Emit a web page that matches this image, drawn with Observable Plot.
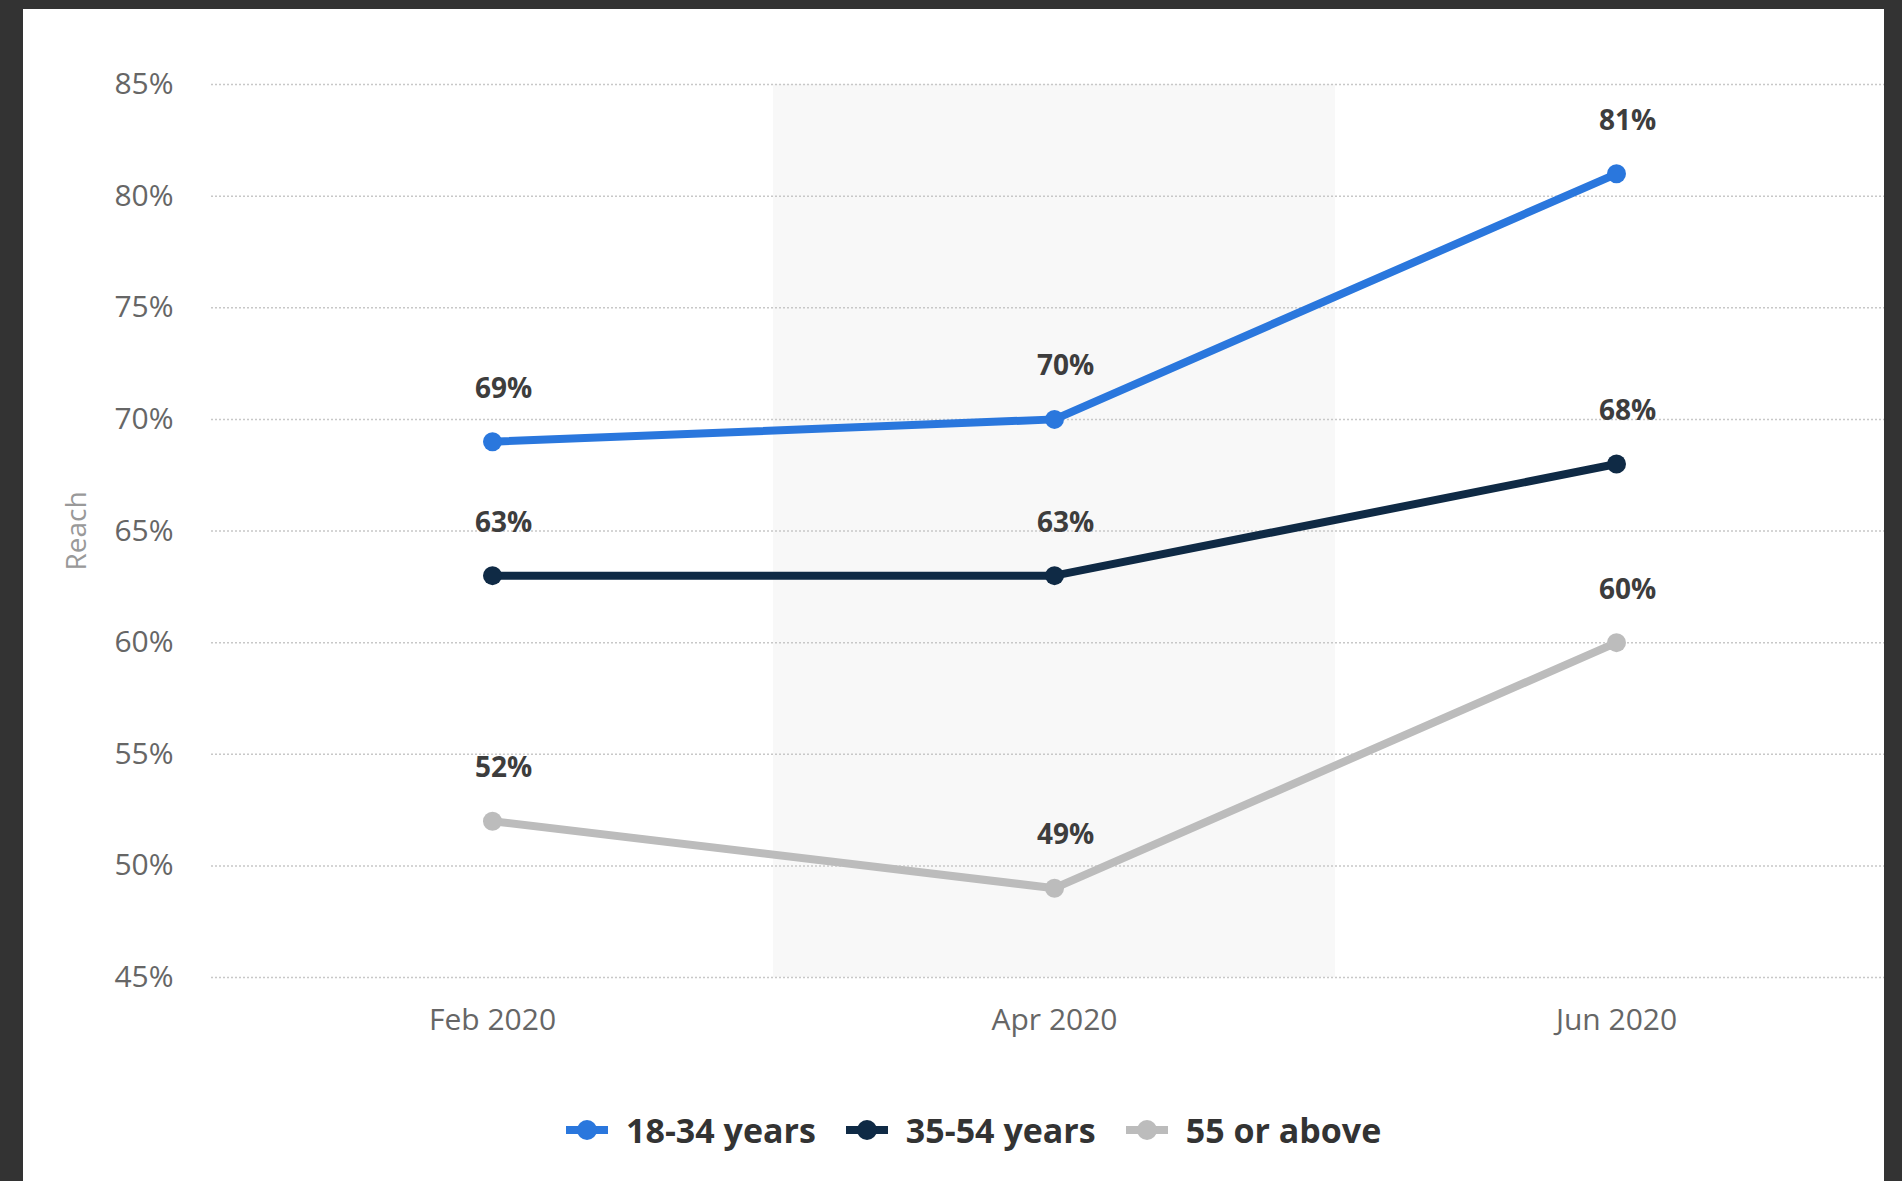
<!DOCTYPE html>
<html><head><meta charset="utf-8">
<script src="https://cdn.jsdelivr.net/npm/d3@7"></script>
<script src="https://cdn.jsdelivr.net/npm/@observablehq/plot@0.6"></script>
<style>
html,body{margin:0;padding:0;background:#333333;width:1902px;height:1181px;overflow:hidden;}
#card{position:absolute;left:23px;top:9px;width:1861px;height:1172px;background:#fff;overflow:hidden;font-family:"Open Sans",sans-serif;}
#chart{position:absolute;left:0;top:0;width:1879px;}
#chart svg{max-width:none !important;}
#legend{position:absolute;left:543px;top:1101px;display:flex;align-items:center;font-weight:bold;font-size:34px;color:#333;white-space:nowrap;line-height:40px;}
.item{display:flex;align-items:center;margin-right:30px;}
.item svg{margin-right:18px;}
</style></head><body>
<div id="card"><div id="chart"></div><div id="legend"></div></div>
<script>
const months = ["Feb 2020", "Apr 2020", "Jun 2020"];
const series = ["18-34 years", "35-54 years", "55 or above"];
const reach18to34 = [69, 70, 81];
const reach35to54 = [63, 63, 68];
const reach55plus = [52, 49, 60];
const colors = ["#2a77dd", "#0f2a45", "#bcbcbc"];
const yTicks = [45, 50, 55, 60, 65, 70, 75, 80, 85];
const highlight = ["Apr 2020"];

const values = [reach18to34, reach35to54, reach55plus];
const data = [];
series.forEach((s, i) => months.forEach((m, j) => data.push({series: s, month: m, value: values[i][j]})));

const chart = Plot.plot({
  width: 1879, height: 1051,
  marginLeft: 188, marginRight: 5, marginTop: 75, marginBottom: 83,
  style: {fontFamily: "Open Sans, sans-serif", fontSize: "30px", background: "transparent", color: "#666", overflow: "visible", maxWidth: "none"},
  x: {type: "band", domain: months, padding: 0, label: null, tickSize: 0, tickPadding: 31},
  y: {domain: [yTicks[0], yTicks[yTicks.length - 1]], ticks: yTicks, tickFormat: d => d + "%", label: null, tickSize: 0, tickPadding: 38},
  color: {domain: series, range: colors},
  marks: [
    Plot.barY(highlight, {x: d => d, y1: yTicks[0], y2: yTicks[yTicks.length - 1], fill: "#f8f8f8"}),
    Plot.ruleY(yTicks, {stroke: "#c8c8c8", strokeDasharray: "2,2", strokeWidth: 1.5}),
    Plot.line(data, {x: "month", y: "value", z: "series", stroke: "series", strokeWidth: 8}),
    Plot.dot(data, {x: "month", y: "value", fill: "series", r: 9.5}),
    Plot.text(data, {x: "month", y: "value", text: d => d.value + "%", dy: -53, dx: 11, fontWeight: "bold", fill: "#3d3d3d", fontSize: 28}),
    Plot.text(["Reach"], {frameAnchor: "left", textAnchor: "middle", text: d => d, rotate: -90, dx: -134, fill: "#999", fontSize: 28})
  ]
});
document.getElementById("chart").appendChild(chart);

const legend = document.getElementById("legend");
series.forEach((s, i) => {
  const item = document.createElement("div");
  item.className = "item";
  item.innerHTML = `<svg width="42" height="22"><line x1="0" y1="11" x2="42" y2="11" stroke="${colors[i]}" stroke-width="8"/><circle cx="21" cy="11" r="10" fill="${colors[i]}"/></svg><span>${s}</span>`;
  legend.appendChild(item);
});
</script>
</body></html>
